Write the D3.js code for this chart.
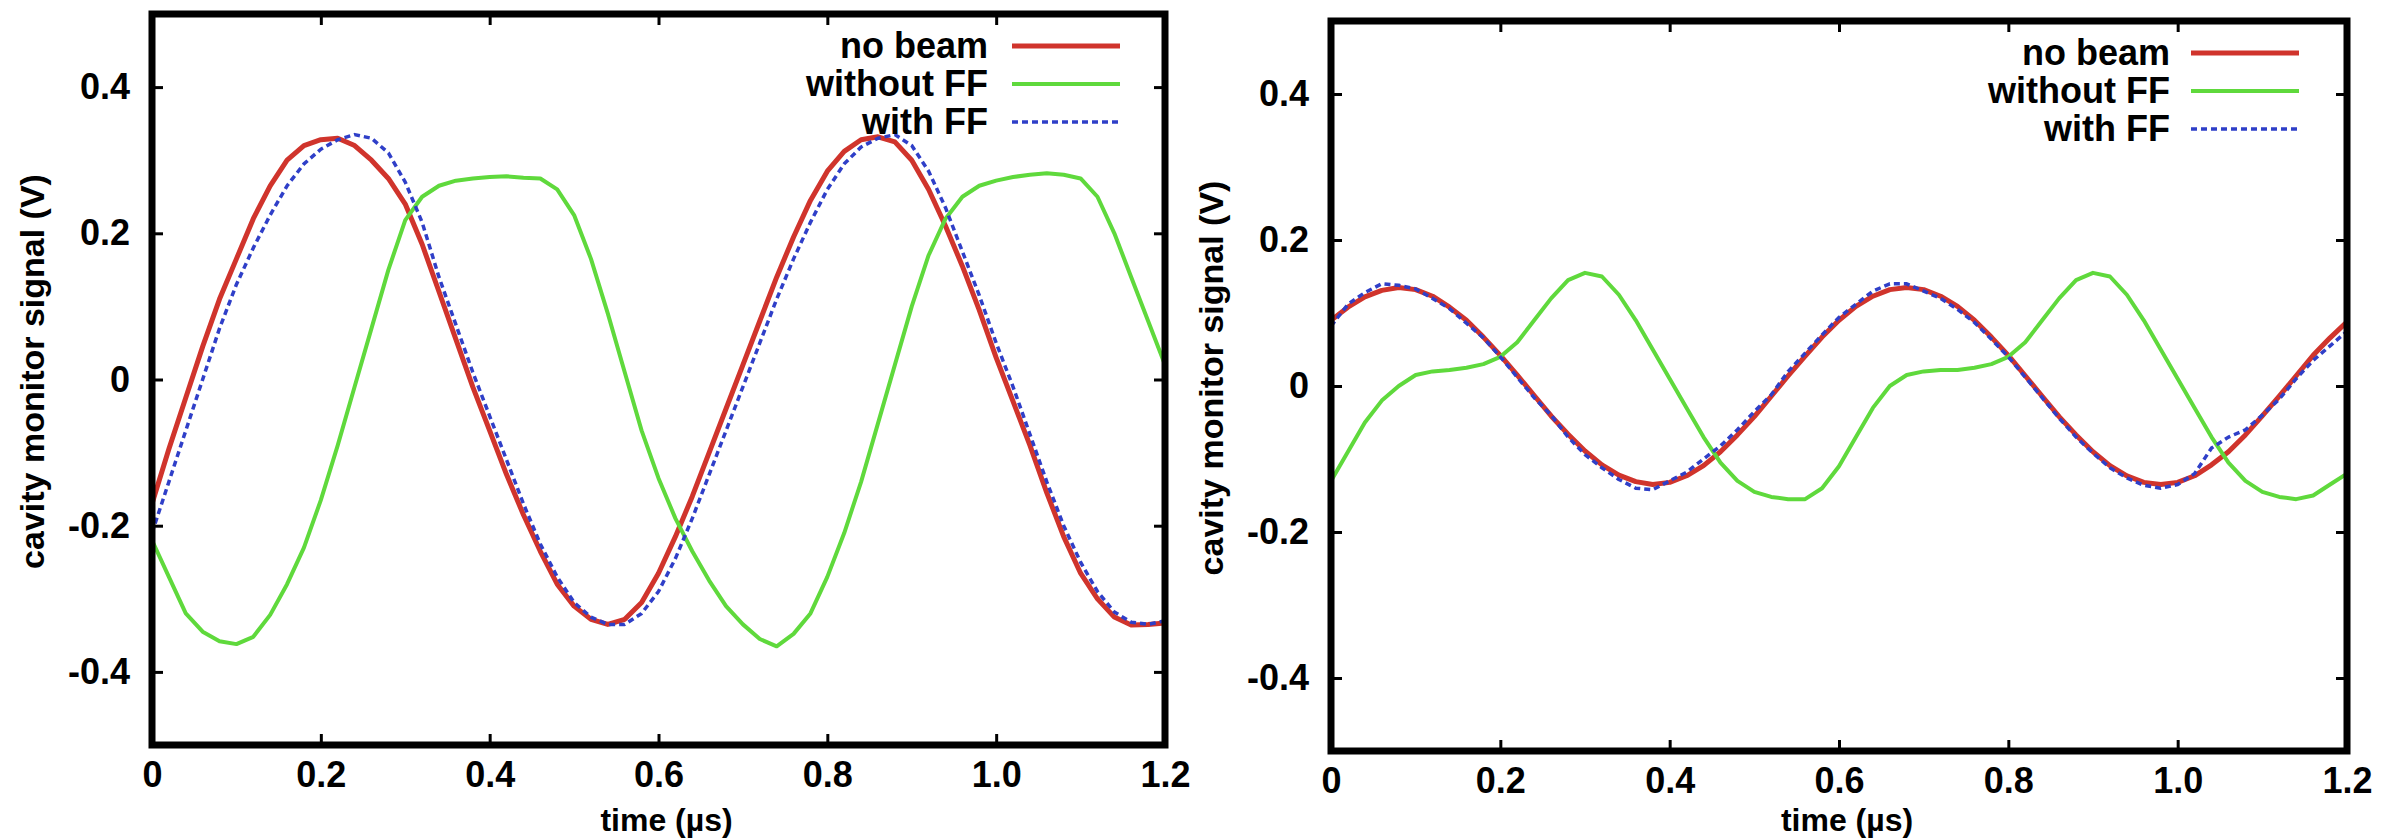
<!DOCTYPE html>
<html>
<head>
<meta charset="utf-8">
<script src="https://cdn.jsdelivr.net/npm/d3@7"></script>
<style>
  body { margin: 0; background: #fff; }
  svg text { font-family: "Liberation Sans", Arial, Helvetica, sans-serif; font-weight: bold; fill: #000; }
</style>
</head>
<body>
<svg id="chart" width="2404" height="840"></svg>
<script>
// Sample times (µs) shared by every trace
const timeUs = [0, 0.02, 0.04, 0.06, 0.08, 0.10, 0.12, 0.14, 0.16, 0.18,
  0.20, 0.22, 0.24, 0.26, 0.28, 0.30, 0.32, 0.34, 0.36, 0.38,
  0.40, 0.42, 0.44, 0.46, 0.48, 0.50, 0.52, 0.54, 0.56, 0.58,
  0.60, 0.62, 0.64, 0.66, 0.68, 0.70, 0.72, 0.74, 0.76, 0.78,
  0.80, 0.82, 0.84, 0.86, 0.88, 0.90, 0.92, 0.94, 0.96, 0.98,
  1.00, 1.02, 1.04, 1.06, 1.08, 1.10, 1.12, 1.14, 1.16, 1.18, 1.20];

// Left panel: cavity monitor signal (V)
const leftNoBeam = [-0.17, -0.095, -0.025, 0.045, 0.11, 0.165, 0.22, 0.265, 0.3, 0.32,
  0.328, 0.33, 0.32, 0.3, 0.275, 0.24, 0.185, 0.12, 0.055, -0.01,
  -0.07, -0.13, -0.185, -0.235, -0.28, -0.31, -0.328, -0.335, -0.328, -0.305,
  -0.265, -0.215, -0.16, -0.1, -0.04, 0.02, 0.08, 0.14, 0.195, 0.245,
  0.285, 0.312, 0.328, 0.332, 0.325, 0.3, 0.26, 0.21, 0.155, 0.095,
  0.03, -0.03, -0.09, -0.155, -0.215, -0.265, -0.3, -0.325, -0.336, -0.335, -0.333];
const leftWithoutFF = [-0.22, -0.27, -0.32, -0.345, -0.358, -0.362, -0.352, -0.322, -0.28, -0.23,
  -0.165, -0.09, -0.01, 0.07, 0.15, 0.218, 0.25, 0.265, 0.272, 0.275,
  0.277, 0.278, 0.276, 0.275, 0.26, 0.225, 0.165, 0.09, 0.01, -0.07,
  -0.135, -0.19, -0.235, -0.275, -0.31, -0.335, -0.355, -0.365, -0.348, -0.32,
  -0.27, -0.21, -0.14, -0.06, 0.02, 0.1, 0.17, 0.22, 0.25, 0.265,
  0.272, 0.277, 0.28, 0.282, 0.28, 0.275, 0.25, 0.2, 0.14, 0.08, 0.02];
const leftWithFF = [-0.21, -0.14, -0.07, 0.0, 0.07, 0.13, 0.18, 0.225, 0.265, 0.295,
  0.315, 0.328, 0.335, 0.33, 0.31, 0.27, 0.215, 0.14, 0.075, 0.01,
  -0.05, -0.11, -0.17, -0.225, -0.27, -0.305, -0.325, -0.335, -0.335, -0.32,
  -0.29, -0.245, -0.19, -0.13, -0.07, -0.01, 0.05, 0.11, 0.165, 0.215,
  0.26, 0.295, 0.318, 0.33, 0.335, 0.32, 0.285, 0.235, 0.175, 0.115,
  0.05, -0.01, -0.075, -0.14, -0.2, -0.25, -0.29, -0.318, -0.332, -0.335, -0.33];

// Right panel: cavity monitor signal (V)
const rightNoBeam = [0.09, 0.108, 0.122, 0.131, 0.135, 0.132, 0.123, 0.108, 0.09, 0.067,
  0.042, 0.015, -0.013, -0.041, -0.066, -0.089, -0.108, -0.122, -0.131, -0.135,
  -0.132, -0.123, -0.109, -0.09, -0.067, -0.042, -0.014, 0.014, 0.041, 0.067,
  0.09, 0.109, 0.123, 0.132, 0.135, 0.132, 0.123, 0.109, 0.09, 0.067,
  0.042, 0.014, -0.014, -0.042, -0.067, -0.09, -0.109, -0.123, -0.132, -0.135,
  -0.132, -0.123, -0.108, -0.09, -0.067, -0.041, -0.014, 0.014, 0.042, 0.066, 0.088];
const rightWithoutFF = [-0.13, -0.09, -0.05, -0.02, 0.0, 0.015, 0.02, 0.022, 0.025, 0.03,
  0.04, 0.06, 0.09, 0.12, 0.145, 0.155, 0.15, 0.125, 0.09, 0.05,
  0.01, -0.03, -0.07, -0.105, -0.13, -0.145, -0.152, -0.155, -0.155, -0.14,
  -0.11, -0.07, -0.03, 0.0, 0.015, 0.02, 0.022, 0.022, 0.025, 0.03,
  0.04, 0.06, 0.09, 0.12, 0.145, 0.155, 0.15, 0.125, 0.09, 0.05,
  0.01, -0.03, -0.07, -0.105, -0.13, -0.145, -0.152, -0.155, -0.15, -0.135, -0.12];
const rightWithFF = [0.082, 0.112, 0.128, 0.14, 0.138, 0.133, 0.12, 0.106, 0.086, 0.066,
  0.04, 0.012, -0.016, -0.04, -0.07, -0.094, -0.112, -0.128, -0.14, -0.142,
  -0.13, -0.118, -0.1, -0.082, -0.06, -0.035, -0.012, 0.02, 0.045, 0.07,
  0.094, 0.112, 0.13, 0.14, 0.14, 0.13, 0.12, 0.105, 0.087, 0.064,
  0.04, 0.012, -0.016, -0.044, -0.07, -0.092, -0.112, -0.126, -0.136, -0.14,
  -0.135, -0.12, -0.085, -0.07, -0.06, -0.04, -0.018, 0.01, 0.035, 0.055, 0.075];

const seriesNames = ["no beam", "without FF", "with FF"];
const xTicks = [0, 0.2, 0.4, 0.6, 0.8, 1.0, 1.2];
const xTickLabels = ["0", "0.2", "0.4", "0.6", "0.8", "1.0", "1.2"];
const yTicks = [-0.4, -0.2, 0, 0.2, 0.4];
const yTickLabels = ["-0.4", "-0.2", "0", "0.2", "0.4"];
const xTitle = "time (\u00b5s)";
const yTitle = "cavity monitor signal (V)";

const styles = [
  { color: "#d0342c", width: 5, dash: null },
  { color: "#5fd93c", width: 4, dash: null },
  { color: "#2f3fc8", width: 3.5, dash: "6,4" }
];

const panels = [
  { box: { left: 152, right: 1165, top: 14, bottom: 745 },
    series: [leftNoBeam, leftWithoutFF, leftWithFF],
    legend: { textRight: 988, x0: 1012, x1: 1120, rows: [46, 84, 122] } },
  { box: { left: 1331, right: 2347, top: 21, bottom: 751 },
    series: [rightNoBeam, rightWithoutFF, rightWithFF],
    legend: { textRight: 2170, x0: 2191, x1: 2299, rows: [53, 91, 129] } }
];

const svg = d3.select("#chart");
svg.append("rect").attr("width", 2404).attr("height", 840).attr("fill", "#fff");

panels.forEach((p, pi) => {
  const b = p.box;
  const x = d3.scaleLinear().domain([0, 1.2]).range([b.left, b.right]);
  const y = d3.scaleLinear().domain([-0.5, 0.5]).range([b.bottom, b.top]);
  const g = svg.append("g").attr("class", "panel" + pi);

  const clipId = "clip" + pi;
  g.append("clipPath").attr("id", clipId)
    .append("rect").attr("x", b.left).attr("y", b.top)
    .attr("width", b.right - b.left).attr("height", b.bottom - b.top);

  // Traces
  const line = d3.line().x((d, i) => x(timeUs[i])).y(d => y(d));
  const traces = g.append("g").attr("clip-path", `url(#${clipId})`);
  p.series.forEach((vals, si) => {
    const s = styles[si];
    traces.append("path").datum(vals)
      .attr("d", line)
      .attr("fill", "none")
      .attr("stroke", s.color)
      .attr("stroke-width", s.width)
      .attr("stroke-linejoin", "round")
      .attr("stroke-dasharray", s.dash);
  });

  // Axes with inward ticks on all four sides
  const tickStyle = sel => {
    sel.select(".domain").remove();
    sel.selectAll(".tick line").attr("stroke", "#000").attr("stroke-width", 3);
    sel.selectAll(".tick text").style("font-size", "36px");
  };
  const mirrorStyle = sel => {
    sel.select(".domain").remove();
    sel.selectAll(".tick line").attr("stroke", "#000").attr("stroke-width", 3);
    sel.selectAll(".tick text").remove();
  };
  g.append("g").attr("transform", `translate(0,${b.bottom})`)
    .call(d3.axisBottom(x).tickValues(xTicks).tickFormat((d, i) => xTickLabels[i])
      .tickSize(-11).tickPadding(16))
    .call(tickStyle);
  g.append("g").attr("transform", `translate(0,${b.top})`)
    .call(d3.axisTop(x).tickValues(xTicks).tickSize(-11))
    .call(mirrorStyle);
  g.append("g").attr("transform", `translate(${b.left},0)`)
    .call(d3.axisLeft(y).tickValues(yTicks).tickFormat((d, i) => yTickLabels[i])
      .tickSize(-11).tickPadding(22))
    .call(tickStyle);
  g.append("g").attr("transform", `translate(${b.right},0)`)
    .call(d3.axisRight(y).tickValues(yTicks).tickSize(-11))
    .call(mirrorStyle);

  // Frame
  g.append("rect")
    .attr("x", b.left).attr("y", b.top)
    .attr("width", b.right - b.left).attr("height", b.bottom - b.top)
    .attr("fill", "none").attr("stroke", "#000").attr("stroke-width", 7);

  // Axis titles (x title kept clear of the bottom edge)
  g.append("text")
    .attr("x", (b.left + b.right) / 2 + 8).attr("y", 831)
    .attr("text-anchor", "middle").style("font-size", "32px")
    .text(xTitle);
  g.append("text")
    .attr("transform", `translate(${b.left - 108},${(b.top + b.bottom) / 2 - 8}) rotate(-90)`)
    .attr("text-anchor", "middle").style("font-size", "34px")
    .text(yTitle);

  // Legend
  const lg = g.append("g");
  seriesNames.forEach((name, si) => {
    const s = styles[si];
    const ry = p.legend.rows[si];
    lg.append("text")
      .attr("x", p.legend.textRight).attr("y", ry + 12)
      .attr("text-anchor", "end").style("font-size", "36px")
      .text(name);
    lg.append("line")
      .attr("x1", p.legend.x0).attr("x2", p.legend.x1)
      .attr("y1", ry).attr("y2", ry)
      .attr("stroke", s.color).attr("stroke-width", s.width)
      .attr("stroke-dasharray", s.dash);
  });
});
</script>
</body>
</html>
